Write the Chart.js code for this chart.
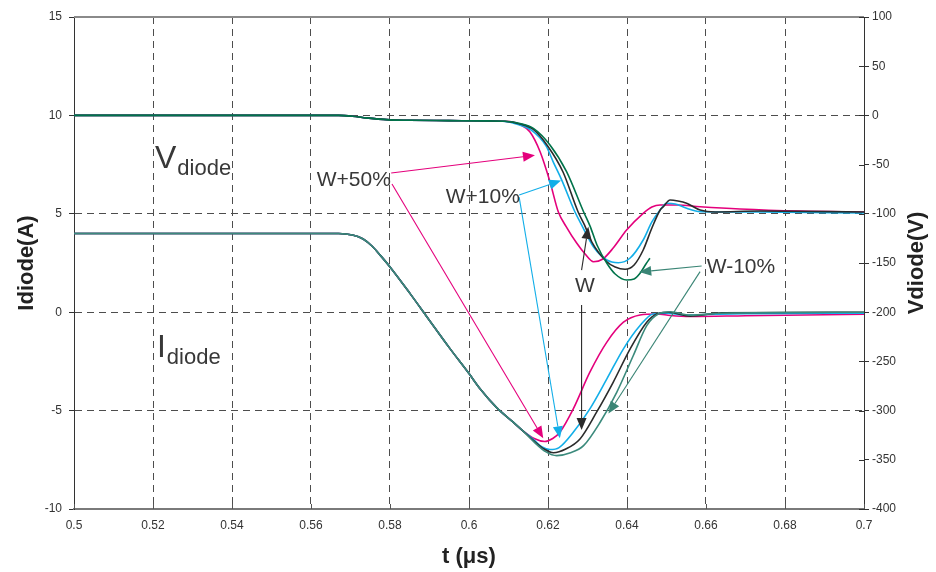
<!DOCTYPE html>
<html><head><meta charset="utf-8">
<script src="https://cdn.jsdelivr.net/npm/chart.js@4.4.1/dist/chart.umd.min.js"></script>
<style>html,body{margin:0;padding:0;background:#fff;}canvas{display:block}</style>
</head><body>
<canvas id="c" width="936" height="572"></canvas>
<script>
// ---------- DATA (t in µs) ----------
const xTickStep = 0.02;
const currentTicks = [-10, -5, 0, 5, 10, 15];
const voltageTickStep = 50;

// shared part of the diode current, before the four curves separate
const currentCommon = [[0.5,4.0],[0.53,4.0],[0.567,4.0],[0.5705,3.92],[0.5732,3.72],[0.5755,3.35],[0.5775,2.9],[0.58,2.3],[0.585,0.97],[0.59,-0.42],[0.595,-1.8],[0.6,-3.12],[0.6028,-3.89],[0.607,-4.85],[0.6112,-5.59]];
const currentW50 = [[0.6135,-6.0],[0.6165,-6.42],[0.6192,-6.57],[0.6212,-6.42],[0.623,-6.1],[0.6264,-4.91],[0.6306,-3.05],[0.6349,-1.52],[0.6391,-0.51],[0.6433,-0.14],[0.6475,-0.09],[0.651,-0.17],[0.656,-0.22],[0.67,-0.18],[0.7,-0.1]];
const currentW10 = [[0.6135,-6.0],[0.6165,-6.5],[0.6185,-6.85],[0.6205,-6.98],[0.6228,-6.88],[0.6264,-6.1],[0.6306,-4.91],[0.6349,-3.39],[0.6391,-1.86],[0.6433,-0.68],[0.6466,-0.09],[0.65,-0.05],[0.655,-0.15],[0.66,-0.12],[0.67,-0.08],[0.7,-0.05]];
const currentW = [[0.6135,-6.0],[0.6165,-6.55],[0.619,-6.95],[0.6214,-7.14],[0.6245,-6.95],[0.6281,-6.44],[0.6323,-5.08],[0.6365,-3.56],[0.6408,-1.86],[0.645,-0.51],[0.6475,-0.09],[0.6505,0.0],[0.656,-0.2],[0.664,-0.03],[0.7,0]];
const currentWm10 = [[0.6135,-6.0],[0.6165,-6.6],[0.6195,-7.1],[0.6222,-7.29],[0.6255,-7.15],[0.629,-6.78],[0.6332,-5.59],[0.6374,-4.07],[0.6416,-2.2],[0.645,-0.68],[0.6479,-0.09],[0.651,0.02],[0.656,-0.15],[0.664,-0.05],[0.7,0]];

// shared part of the diode voltage
const voltageCommon = [[0.5,0],[0.54,0],[0.567,0],[0.5705,-0.8],[0.574,-2.5],[0.577,-3.8],[0.58,-4.5],[0.585,-5.0],[0.595,-5.3],[0.605,-5.6]];
const voltageW50 = [[0.6104,-6.2],[0.6129,-9.2],[0.6154,-16.6],[0.618,-36.9],[0.6205,-67.4],[0.6226,-97.9],[0.6246,-113],[0.6273,-130],[0.6294,-140.9],[0.6315,-148.7],[0.6339,-145.9],[0.6365,-134.8],[0.6399,-116.5],[0.6441,-99.5],[0.6463,-93.1],[0.6484,-91.1],[0.6527,-91.1],[0.6585,-92.8],[0.6686,-95.1],[0.6838,-97.2],[0.7,-98.2]];
const voltageW10 = [[0.6086,-6.0],[0.6124,-9.2],[0.6157,-14.8],[0.6195,-31],[0.6214,-48],[0.6234,-65],[0.6268,-97.9],[0.6283,-109.7],[0.6315,-133.4],[0.6349,-147],[0.6378,-149.7],[0.6408,-144.9],[0.6441,-126.6],[0.6463,-108.3],[0.6484,-96.1],[0.65,-89.3],[0.6522,-90],[0.6551,-94.4],[0.6585,-97.9],[0.6737,-98.2],[0.7,-99.2]];
const voltageW = [[0.6091,-6.0],[0.6129,-8.7],[0.6163,-14.3],[0.62,-31.6],[0.6238,-57.5],[0.6276,-97.9],[0.6292,-111],[0.6311,-128.7],[0.6349,-148.7],[0.637,-154.1],[0.6395,-156.4],[0.6418,-152],[0.6441,-136.8],[0.6463,-114.4],[0.6484,-96.1],[0.6492,-92.8],[0.6509,-86],[0.6529,-87],[0.6551,-89.3],[0.6585,-96.1],[0.6623,-98.2],[0.6737,-97.2],[0.7,-98.2]];
const voltageWm10 = [[0.6091,-6.0],[0.6129,-8.2],[0.6163,-13.1],[0.6205,-30],[0.6247,-57.2],[0.629,-97.9],[0.6307,-113],[0.6324,-131.7],[0.6349,-150.3],[0.637,-161.2],[0.6399,-167.3],[0.6418,-166.3],[0.6433,-160.5],[0.6448,-151],[0.6458,-145.2]];

// annotation texts and arrows, in (t, Idiode) units
const noteLabels = [
  {text:'W+50%', at:[0.56144, 6.39]},
  {text:'W+10%', at:[0.5941, 5.55]},
  {text:'W',     at:[0.62684, 1.05]},
  {text:'W-10%', at:[0.66018, 1.99]}
];
const noteArrows = [
  {from:[0.5803,7.07], to:[0.6167,7.97], color:'#e4007c'},
  {from:[0.5805,6.51], to:[0.6188,-6.41], color:'#e4007c'},
  {from:[0.6127,5.96], to:[0.6233,6.69], color:'#12aee8'},
  {from:[0.6127,5.85], to:[0.6230,-6.41], color:'#12aee8'},
  {from:[0.6285,2.14], to:[0.6302,4.34], color:'#2b2b2b'},
  {from:[0.6285,0.37], to:[0.6285,-5.99], color:'#2b2b2b'},
  {from:[0.6589,2.35], to:[0.6431,2.04], color:'#3a8575'},
  {from:[0.6585,2.06], to:[0.6353,-5.15], color:'#3a8575'}
];
const curveNames = [
  {main:'V', sub:'diode', at:[0.5205, 7.31]},
  {main:'I', sub:'diode', at:[0.5210, -2.26]}
];

// ---------- CHART ----------
const FONT = "'Liberation Sans', Arial, sans-serif";
const toXY = arr => arr.map(p => ({x:p[0], y:p[1]}));
const COL = {w50:'#e4007c', w10:'#12aee8', w:'#2b2b2b', wm10V:'#00734a', wm10I:'#3b8a7c'};

function ds(data, color, axis, order){
  return {data: toXY(data), borderColor: color, borderWidth: 1.6, pointRadius: 0, fill: false,
          cubicInterpolationMode: 'monotone', yAxisID: axis, order: order};
}

const decorPlugin = {
  id: 'decor',
  beforeDatasetsDraw(chart){
    const {ctx, chartArea:a, scales} = chart;
    ctx.save();
    // top frame line
    ctx.strokeStyle = '#8a8a8a'; ctx.lineWidth = 2;
    ctx.beginPath(); ctx.moveTo(a.left, a.top); ctx.lineTo(a.right, a.top); ctx.stroke();
    // inner ticks x axis
    ctx.strokeStyle = '#555'; ctx.lineWidth = 1;
    scales.x.ticks.forEach(t => {
      const x = Math.round(scales.x.getPixelForValue(t.value)) + 0.5;
      ctx.beginPath(); ctx.moveTo(x, a.bottom); ctx.lineTo(x, a.bottom - 5); ctx.stroke();
    });
    // inner ticks right axis
    ctx.strokeStyle = '#333';
    scales.y2.ticks.forEach(t => {
      const y = Math.round(scales.y2.getPixelForValue(t.value)) + 0.5;
      ctx.beginPath(); ctx.moveTo(a.right, y); ctx.lineTo(a.right - 5, y); ctx.stroke();
    });
    ctx.restore();
  },
  afterDatasetsDraw(chart){
    const {ctx, chartArea:a, scales} = chart;
    const P = (p) => [scales.x.getPixelForValue(p[0]), scales.y.getPixelForValue(p[1])];
    ctx.save();
    noteArrows.forEach(ar => {
      const [x1,y1] = P(ar.from), [x2,y2] = P(ar.to);
      const ang = Math.atan2(y2-y1, x2-x1), L = 12, W = 5;
      const bx = x2 - L*Math.cos(ang), by = y2 - L*Math.sin(ang);
      ctx.strokeStyle = ar.color; ctx.fillStyle = ar.color; ctx.lineWidth = 1.1;
      ctx.beginPath(); ctx.moveTo(x1,y1); ctx.lineTo(bx,by); ctx.stroke();
      ctx.beginPath(); ctx.moveTo(x2,y2);
      ctx.lineTo(bx + W*Math.sin(ang), by - W*Math.cos(ang));
      ctx.lineTo(bx - W*Math.sin(ang), by + W*Math.cos(ang));
      ctx.closePath(); ctx.fill();
    });
    ctx.fillStyle = '#383838';
    ctx.textBaseline = 'alphabetic'; ctx.textAlign = 'left';
    ctx.font = '21px ' + FONT;
    noteLabels.forEach(l => { const [x,y] = P(l.at); ctx.fillText(l.text, x, y); });
    curveNames.forEach(n => {
      const [x,y] = P(n.at);
      ctx.font = '32px ' + FONT; ctx.fillText(n.main, x, y);
      const w = ctx.measureText(n.main).width;
      ctx.font = '22px ' + FONT; ctx.fillText(n.sub, x + w + 1, y + 7);
    });
    // right axis title, reading bottom-to-top
    ctx.font = 'bold 22px ' + FONT; ctx.fillStyle = '#222';
    ctx.translate(chart.width - 19, (a.top + a.bottom) / 2);
    ctx.rotate(-Math.PI/2);
    ctx.textAlign = 'center'; ctx.textBaseline = 'middle';
    ctx.fillText('Vdiode(V)', 0, 0);
    ctx.restore();
  }
};

new Chart(document.getElementById('c'), {
  type: 'line',
  data: {
    datasets: [
      ds(voltageCommon.concat(voltageWm10), COL.wm10V, 'y2', 1),
      ds(voltageCommon.concat(voltageW), COL.w, 'y2', 2),
      ds(voltageCommon.concat(voltageW10), COL.w10, 'y2', 3),
      ds(voltageCommon.concat(voltageW50), COL.w50, 'y2', 4),
      ds(currentCommon.concat(currentWm10), COL.wm10I, 'y', 5),
      ds(currentCommon.concat(currentW), COL.w, 'y', 6),
      ds(currentCommon.concat(currentW10), COL.w10, 'y', 7),
      ds(currentCommon.concat(currentW50), COL.w50, 'y', 8)
    ]
  },
  options: {
    responsive: false, animation: false, devicePixelRatio: 1,
    layout: {padding: {top: 17, left: 0, right: 0, bottom: 0}},
    plugins: {legend: {display: false}, tooltip: {enabled: false}},
    scales: {
      x: {
        type: 'linear', min: 0.5, max: 0.7,
        ticks: {stepSize: xTickStep, padding: 9, color: '#333', font: {family: FONT, size: 12},
                callback: v => String(+v.toFixed(2))},
        grid: {drawTicks: false,
               color: c => (Math.abs(c.tick.value - 0.5) < 1e-6 || Math.abs(c.tick.value - 0.7) < 1e-6) ? 'rgba(0,0,0,0)' : '#4d4d4d'},
        border: {color: '#7a7a7a', width: 2, dash: [7, 5]},
        title: {display: true, text: 't (μs)', color: '#222', font: {family: FONT, size: 22, weight: 'bold'}, padding: {top: 0, bottom: 2}},
        afterFit: s => { s.height = 63; }
      },
      y: {
        position: 'left', min: -10, max: 15,
        afterBuildTicks: s => { s.ticks = currentTicks.map(v => ({value: v})); },
        ticks: {padding: 7, color: '#333', font: {family: FONT, size: 12}},
        grid: {tickLength: 5, tickColor: '#333',
               color: c => (c.tick.value === 15 || c.tick.value === -10) ? 'rgba(0,0,0,0)' : '#4d4d4d'},
        border: {color: '#333', width: 1, dash: [7, 5]},
        title: {display: true, text: 'Idiode(A)', color: '#222', font: {family: FONT, size: 22, weight: 'bold'}, padding: {top: 14, bottom: 0}},
        afterFit: s => { s.width = 74; }
      },
      y2: {
        position: 'right', min: -400, max: 100,
        ticks: {stepSize: voltageTickStep, padding: 3, color: '#333', font: {family: FONT, size: 12}},
        grid: {drawOnChartArea: false, tickLength: 5, tickColor: '#333'},
        border: {color: '#333', width: 1},
        afterFit: s => { s.width = 72; }
      }
    }
  },
  plugins: [decorPlugin]
});
</script>
</body></html>
